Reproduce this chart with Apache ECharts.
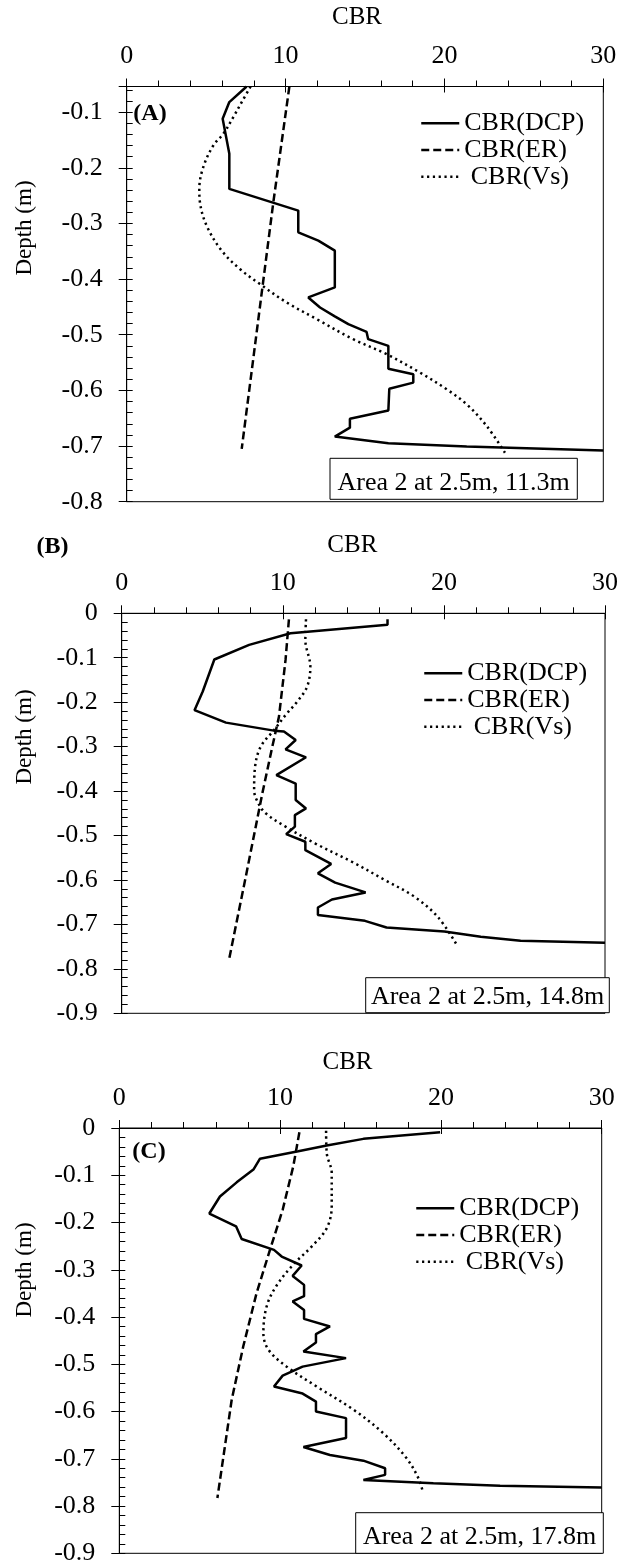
<!DOCTYPE html>
<html>
<head>
<meta charset="utf-8">
<script src="https://cdn.jsdelivr.net/npm/echarts/dist/echarts.min.js"></script>
<style>
html,body{margin:0;padding:0;background:#fff;}
#chart{width:621px;height:1568px;}
</style>
</head>
<body>
<div id="chart"></div>
<script>
// ---------- DATA: [CBR, depth (m)] ----------
const seriesNames = ['CBR(DCP)', 'CBR(ER)', 'CBR(Vs)'];
const xTickValues = [0, 10, 20, 30];
const panelLabels = ['(A)', '(B)', '(C)'];
const boxLabels = ['Area 2 at 2.5m, 11.3m', 'Area 2 at 2.5m, 14.8m', 'Area 2 at 2.5m, 17.8m'];
const depthRanges = [[-0.8, -0.054], [-0.9, 0], [-0.9, 0]];

const dcpA = [[7.55,-0.054],[6.46,-0.082],[6.04,-0.112],[6.46,-0.175],[6.46,-0.238],[10.8,-0.277],[10.8,-0.316],[12.06,-0.331],[13.1,-0.349],[13.1,-0.415],[11.43,-0.433],[12.17,-0.451],[13.1,-0.467],[13.95,-0.481],[15.1,-0.495],[15.2,-0.508],[16.47,-0.52],[16.47,-0.561],[18.04,-0.571],[18.04,-0.586],[16.53,-0.597],[16.47,-0.636],[14.05,-0.651],[14.05,-0.667],[13.1,-0.683],[16.47,-0.695],[21.4,-0.701],[30,-0.708]];
const erA = [[10.24,-0.054],[9.23,-0.262],[7.24,-0.705]];
const vsA = [[7.8,-0.054],[7.24,-0.082],[6.71,-0.109],[6.08,-0.139],[5.45,-0.16],[4.82,-0.199],[4.57,-0.238],[4.61,-0.262],[5.03,-0.304],[5.98,-0.349],[7.13,-0.382],[8.39,-0.409],[10.07,-0.442],[11.96,-0.472],[14.26,-0.508],[16.36,-0.535],[18.46,-0.568],[20.14,-0.598],[21.4,-0.625],[22.66,-0.664],[23.81,-0.712]];

const dcpB = [[16.5,-0.0135],[16.5,-0.026],[10.48,-0.045],[7.91,-0.071],[5.75,-0.104],[5.03,-0.176],[4.52,-0.218],[6.47,-0.246],[9.45,-0.264],[10.07,-0.266],[10.8,-0.285],[10.17,-0.306],[11.44,-0.324],[9.6,-0.364],[10.8,-0.383],[10.8,-0.42],[11.44,-0.439],[10.75,-0.454],[10.75,-0.48],[10.21,-0.497],[11.4,-0.514],[11.4,-0.533],[13.0,-0.564],[12.18,-0.585],[13.25,-0.606],[15.14,-0.628],[13.05,-0.644],[12.18,-0.662],[12.18,-0.679],[15.1,-0.692],[16.44,-0.707],[20.03,-0.716],[22.29,-0.728],[24.76,-0.737],[30,-0.741]];
const erB = [[10.38,-0.0135],[10.17,-0.105],[9.76,-0.233],[9.35,-0.3],[8.73,-0.405],[8.32,-0.48],[7.7,-0.593],[6.68,-0.776]];
const vsB = [[11.44,-0.0135],[11.4,-0.06],[11.71,-0.12],[11.51,-0.165],[10.89,-0.199],[10.17,-0.229],[9.45,-0.263],[8.63,-0.3],[8.28,-0.345],[8.22,-0.398],[8.49,-0.428],[8.94,-0.45],[10.17,-0.48],[12.02,-0.518],[14.28,-0.559],[16.33,-0.6],[18.18,-0.638],[19.62,-0.683],[20.75,-0.743]];

const dcpC = [[19.95,-0.009],[15.18,-0.023],[12.9,-0.037],[11.13,-0.049],[8.75,-0.065],[8.34,-0.088],[7.3,-0.115],[6.26,-0.145],[5.6,-0.181],[7.26,-0.208],[7.61,-0.235],[9.62,-0.258],[10.1,-0.272],[11.34,-0.291],[10.78,-0.313],[11.49,-0.332],[11.49,-0.356],[10.78,-0.367],[11.49,-0.385],[11.49,-0.404],[13.1,-0.42],[12.23,-0.436],[12.23,-0.454],[11.45,-0.473],[14.1,-0.487],[11.4,-0.505],[10.16,-0.524],[9.62,-0.547],[11.4,-0.562],[12.23,-0.579],[12.23,-0.6],[14.1,-0.614],[14.1,-0.656],[11.45,-0.675],[13.1,-0.692],[15.18,-0.704],[16.53,-0.72],[16.53,-0.734],[15.18,-0.745],[19.53,-0.752],[23.68,-0.757],[30,-0.761]];
const erC = [[11.2,-0.009],[10.82,-0.081],[10.16,-0.173],[9.37,-0.258],[8.54,-0.349],[7.71,-0.462],[6.99,-0.575],[6.1,-0.783]];
const vsC = [[12.86,-0.006],[12.9,-0.053],[13.21,-0.095],[13.21,-0.166],[12.9,-0.212],[11.96,-0.251],[10.82,-0.289],[9.75,-0.335],[9.16,-0.378],[8.96,-0.434],[9.27,-0.469],[10.41,-0.505],[12.27,-0.547],[14.56,-0.596],[16.42,-0.646],[17.87,-0.699],[18.6,-0.741],[18.87,-0.769]];

const panelData = [[dcpA, erA, vsA], [dcpB, erB, vsB], [dcpC, erC, vsC]];

// ---------- LAYOUT / STYLE ----------
const FONT = '"Liberation Serif", "Times New Roman", serif';
const grids = [
  {left: 126.7, top: 86.5, width: 476.6, height: 415.2},
  {left: 121.7, top: 613.3, width: 486.6, height: 400},
  {left: 119.3, top: 1128, width: 482.4, height: 425.3}
];
const titleGap = [57, 55, 53];
const titleShift = [8, 11, 13];
const legendPos = [{left: 420, top: 110}, {left: 423, top: 660}, {left: 415, top: 1195}];
const boxes = [
  {x: 330, y: 458.3, w: 247.3, h: 41, ty: 483.3},
  {x: 365.7, y: 977.7, w: 243.6, h: 35, ty: 996.7},
  {x: 355.7, y: 1512.7, w: 247.6, h: 40.6, ty: 1536.7}
];
const panelLabelPos = [[150, 113.3], [52.5, 546.7], [149, 1151.7]];
const depthLabelY = [228, 737, 1270];
const lineStyles = [
  {type: 'solid', width: 2.5},
  {type: [8, 4], width: 2.5},
  {type: [2.2, 3.6], width: 2.5}
];

const black = '#000';
const xAxes = [], yAxes = [], series = [], legends = [], graphics = [];

grids.forEach((g, p) => {
  const [ymin, ymax] = depthRanges[p];
  xAxes.push({
    gridIndex: p, type: 'value', position: 'top', min: xTickValues[0], max: xTickValues[xTickValues.length - 1], interval: 10,
    axisLine: {show: true, onZero: false, lineStyle: {color: black, width: 1}},
    axisTick: {show: true, inside: false, length: 8, lineStyle: {color: black, width: 1}},
    minorTick: {show: true, splitNumber: 5, length: 6, lineStyle: {color: black, width: 1}},
    splitLine: {show: false},
    axisLabel: {margin: 17, color: black, fontFamily: FONT, fontSize: 26,
      formatter: v => xTickValues.includes(v) ? String(v) : ''},
    name: 'CBR', nameLocation: 'middle', nameGap: titleGap[p],
    nameTextStyle: {color: black, fontFamily: FONT, fontSize: 25, padding: [0, 2 * titleShift[p], 0, 0]}
  });
  xAxes.push({
    gridIndex: p, type: 'value', position: 'top', min: 0, max: 30, interval: 10,
    axisLine: {show: false}, axisTick: {show: true, inside: true, length: 6, lineStyle: {color: black, width: 1}},
    axisLabel: {show: false}, splitLine: {show: false}
  });
  yAxes.push({
    gridIndex: p, type: 'value', position: 'left', min: ymin, max: ymax, interval: 0.1,
    axisLine: {show: true, onZero: false, lineStyle: {color: black, width: 1}},
    axisTick: {show: true, inside: false, length: 8, lineStyle: {color: black, width: 1}},
    splitLine: {show: false},
    axisLabel: {margin: 24, color: black, fontFamily: FONT, fontSize: 26,
      formatter: v => {
        const r = Math.round(v * 10) / 10;
        if (Math.abs(r - v) > 1e-6) return '';
        return Math.abs(r) < 1e-9 ? '0' : r.toFixed(1);
      }}
  });
  yAxes.push({
    gridIndex: p, type: 'value', position: 'left', min: ymin, max: ymax, interval: 0.02,
    axisLine: {show: false}, axisTick: {show: true, inside: true, length: 6, lineStyle: {color: black, width: 1}},
    axisLabel: {show: false}, splitLine: {show: false}
  });
  g.show = true; g.borderColor = black; g.borderWidth = 1; g.backgroundColor = 'transparent';

  panelData[p].forEach((d, i) => {
    series.push({
      type: 'line', name: seriesNames[i], xAxisIndex: 2 * p, yAxisIndex: 2 * p,
      data: d, symbol: 'none', showSymbol: false,
      smooth: i === 2 ? 0.35 : false,
      lineStyle: Object.assign({color: black}, lineStyles[i]),
      itemStyle: {color: black}, z: 3 - i
    });
  });

  legends.push({
    orient: 'vertical', left: legendPos[p].left, top: legendPos[p].top,
    itemWidth: 38, itemHeight: 10, itemGap: 0, padding: 0, selectedMode: false,
    data: seriesNames,
    itemStyle: {opacity: 0, borderWidth: 0},
    lineStyle: {width: 2.5},
    formatter: n => n === 'CBR(Vs)' ? ' ' + n : n,
    textStyle: {color: black, fontFamily: FONT, fontSize: 26, lineHeight: 26.7}
  });

  const b = boxes[p];
  graphics.push({type: 'rect', z: 100, shape: {x: b.x, y: b.y, width: b.w, height: b.h},
    style: {fill: '#fff', stroke: black, lineWidth: 1}});
  graphics.push({type: 'text', z: 101, x: b.x + b.w / 2, y: b.ty,
    style: {text: boxLabels[p], fill: black, font: '26px ' + FONT, align: 'center', verticalAlign: 'middle'}});
  graphics.push({type: 'text', z: 101, x: panelLabelPos[p][0], y: panelLabelPos[p][1],
    style: {text: panelLabels[p], fill: black, font: 'bold 24px ' + FONT, align: 'center', verticalAlign: 'middle'}});
  graphics.push({type: 'text', z: 101, x: 25, y: depthLabelY[p], rotation: Math.PI / 2,
    style: {text: 'Depth (m)', fill: black, font: '23px ' + FONT, align: 'center', verticalAlign: 'middle'}});
});

const chart = echarts.init(document.getElementById('chart'), null, {renderer: 'canvas'});
chart.setOption({
  animation: false,
  backgroundColor: '#fff',
  grid: grids,
  xAxis: xAxes,
  yAxis: yAxes,
  legend: legends,
  series: series,
  graphic: graphics
});
</script>
</body>
</html>
